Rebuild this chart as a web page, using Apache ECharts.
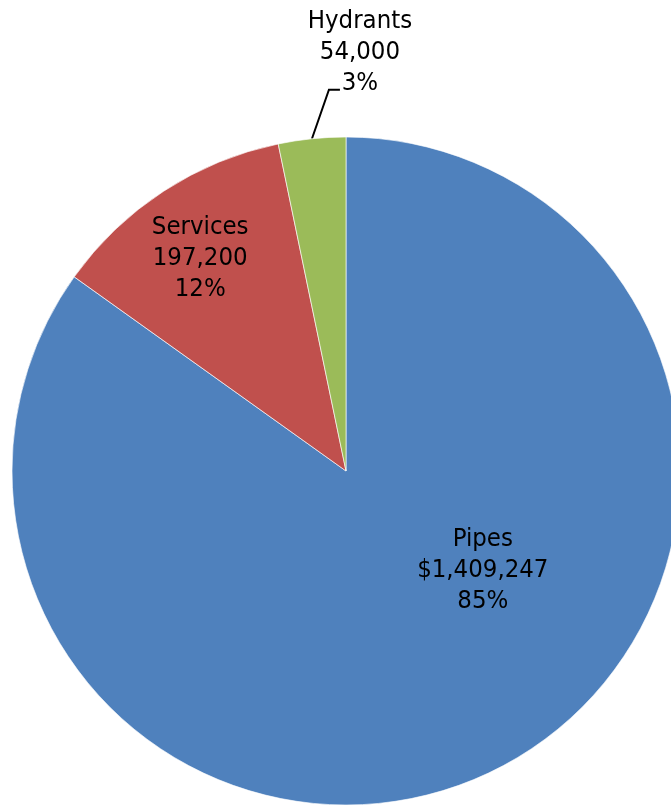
<!DOCTYPE html>
<html>
<head>
<meta charset="utf-8">
<script src="https://cdn.jsdelivr.net/npm/echarts@6/dist/echarts.min.js"></script>
<style>
  html, body { margin: 0; padding: 0; background: #ffffff; }
  #chart { width: 671px; height: 805px; }
</style>
</head>
<body>
<div id="chart"></div>
<script>
// Water system asset replacement costs by component
const categories = ['Pipes', 'Services', 'Hydrants'];
const costs = [1409247, 197200, 54000];
const valuePrefixes = ['$', '', ''];
const sliceColors = ['#4F81BD', '#C0504D', '#9BBB59'];

const FONT = '"DejaVu Sans Condensed", "DejaVu Sans", sans-serif';

// Inside labels are nudged from the slice midpoint toward the open area
const insideOffsets = [[59, -52], [-53, -70], null];

const data = categories.map((name, i) => {
  const item = {
    name: name,
    value: costs[i],
    itemStyle: { color: sliceColors[i] }
  };
  if (insideOffsets[i]) {
    item.label = { position: 'inside', offset: insideOffsets[i] };
  } else {
    item.label = { position: 'outside' };
    item.labelLine = { show: true, length: 20, length2: 10 };
  }
  return item;
});

function formatLabel(p) {
  const v = valuePrefixes[p.dataIndex] + p.value.toLocaleString('en-US');
  return p.name + '\n' + v + '\n' + Math.round(p.percent) + '%';
}

const chart = echarts.init(document.getElementById('chart'), null, { renderer: 'canvas' });
chart.setOption({
  backgroundColor: '#ffffff',
  animation: false,
  series: [{
    type: 'pie',
    center: [346, 471],
    radius: 334,
    startAngle: 90,
    clockwise: true,
    percentPrecision: 0,
    avoidLabelOverlap: false,
    data: data,
    itemStyle: { borderColor: 'rgba(255,255,255,0.8)', borderWidth: 0.8 },
    label: {
      show: true,
      formatter: formatLabel,
      color: '#000000',
      fontFamily: FONT,
      fontSize: 25.5,
      lineHeight: 31,
      align: 'center'
    },
    labelLine: {
      lineStyle: { color: '#000000', width: 2 },
      smooth: false
    },
    emphasis: { disabled: true },
    labelLayout: function (params) {
      if (params.dataIndex !== 2 || !params.labelLinePoints) return {};
      // Leader line: short rise off the rim, then a short horizontal tail
      const p0 = params.labelLinePoints[0];
      const p1 = [p0[0] + 17, p0[1] - 49];
      const p2 = [p1[0] + 11, p1[1]];
      return {
        x: p2[0] + 20,
        y: p2[1] - 37,
        align: 'center',
        verticalAlign: 'middle',
        labelLinePoints: [p0, p1, p2]
      };
    }
  }]
});
</script>
</body>
</html>
